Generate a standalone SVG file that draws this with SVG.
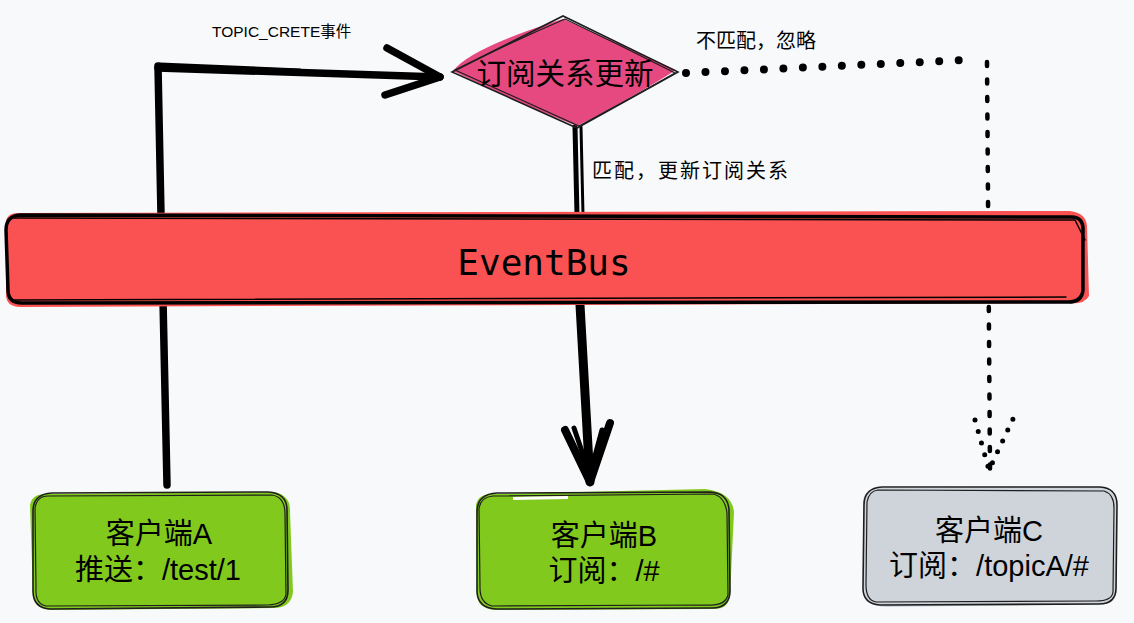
<svg xmlns="http://www.w3.org/2000/svg" width="1134" height="623" viewBox="0 0 1134 623">
<style>
.bg{fill:#f8f9fb}
.ln{fill:none;stroke:#000;stroke-linecap:round;stroke-linejoin:round}
.sk{fill:none;stroke:#1e1e1e;stroke-width:1.6}
.sk2{fill:none;stroke:#1e1e1e;stroke-width:1.2}
.cjk{font-family:"Liberation Sans","Noto Sans CJK SC",sans-serif;fill:#000}
.mono{font-family:"DejaVu Sans Mono",monospace;fill:#000}
.dot{fill:none;stroke:#000;stroke-linecap:round}
</style>
<rect class="bg" x="0" y="0" width="1134" height="623"/>
<g id="connectors">
  <!-- A to diamond -->
  <path class="ln" stroke-width="7.5" d="M167 485 L163 300 M161 215 L158 66"/>
  <path class="ln" stroke-width="7.5" d="M158 68 L440 77"/>
  <path class="ln" stroke-width="3" d="M160 64 L300 70"/>
  <path class="ln" stroke-width="7.5" d="M387 48 L440 77 L385 95"/>
  <path class="ln" stroke-width="3" d="M392 52 L438 74"/>
  <!-- diamond to B -->
  <path class="ln" stroke-width="5" d="M575 127 L577 215"/>
  <path class="ln" stroke-width="3" d="M581 127 L583 215"/>
  <path class="ln" stroke-width="9" d="M580 305 L590 482"/>
  <path class="ln" stroke-width="8" d="M565 430 L590 482 L610 423"/>
  <path class="ln" stroke-width="5" d="M574 428 L591 478 M602 430 L589 478"/>
  <!-- dotted to C -->
  <path class="dot" stroke-width="8" stroke-dasharray="0 19.5" d="M686 73 L966 60"/>
  <path class="dot" stroke-width="4.5" stroke-dasharray="4 13.5" d="M987 62 L990 470"/>
  <path class="dot" stroke-width="5" stroke-dasharray="0 12" d="M975 420 L989 470 L1013 419"/>
</g>
<g id="label-topic">
  <text class="cjk" x="212" y="37" font-size="15.5">TOPIC_CRETE事件</text>
</g>
<g id="label-nomatch">
  <text class="cjk" x="696" y="48" font-size="20">不匹配，忽略</text>
</g>
<g id="label-match">
  <text class="cjk" x="592" y="178" font-size="20" letter-spacing="2">匹配，更新订阅关系</text>
</g>
<g id="eventbus">
  <path fill="#fa5252" d="M6 221 Q8 212 20 213 L1070 211 Q1086 213 1087 226 L1089 296 Q1084 305 1068 303 L20 307 Q5 307 6 292 Z"/>
  <path class="ln" stroke-width="3.5" d="M20 215 L1070 217 Q1084 216 1083 232 L1083 290 Q1082 302 1068 302 L22 303 Q8 303 8 290 L6 230 Q6 216 20 215 Z"/>
  <path class="ln" stroke-width="1.5" d="M14 218 L1075 220 Q1080 230 1085 240 M12 300 L1066 297"/>
  <text class="mono" x="544" y="275" font-size="36" text-anchor="middle">EventBus</text>
</g>
<g id="diamond">
  <path fill="#e64980" d="M453 71 Q470 48 563 19 Q600 35 676 70 Q620 105 577 126 Q520 104 453 71 Z"/>
  <path class="sk" d="M452 72 L563 16 L678 72 L577 128 Z"/>
  <path class="sk2" d="M455 70 Q505 45 565 19 Q620 45 675 73 Q628 100 579 126 Q510 95 455 70 Z"/>
  <text class="cjk" x="565" y="84" font-size="29.5" text-anchor="middle">订阅关系更新</text>
</g>
<g id="clientA">
  <path fill="#82c91e" d="M30 505 Q32 493 48 494 L272 492 Q291 494 290 512 L293 592 Q291 608 274 608 L50 610 Q34 608 33 593 Z"/>
  <path class="sk" d="M52 493 L268 492 Q287 493 287 510 L288 590 Q288 607 270 607 L50 609 Q33 608 33 591 L33 511 Q33 494 52 493 Z"/>
  <path class="sk2" d="M48 496 L272 495 Q285 497 285 514 L286 594 Q285 604 268 605 L46 606 Q35 604 36 588 L35 508 Q37 496 48 496 Z"/>
  <text class="cjk" x="159" y="544" font-size="29" text-anchor="middle">客户端A</text>
  <text class="cjk" x="158" y="580" font-size="29" text-anchor="middle">推送：/test/1</text>
</g>
<g id="clientB">
  <path fill="#82c91e" d="M476 505 Q478 493 495 494 L705 489 Q732 492 734 512 L730 596 Q728 610 712 609 L494 610 Q477 608 477 594 Z"/>
  <path class="sk" d="M497 493 L710 492 Q728 493 729 510 L730 592 Q729 608 712 608 L496 609 Q478 608 477 592 L477 512 Q477 494 497 493 Z"/>
  <path class="sk2" d="M493 496 L714 494 Q726 498 727 514 L728 595 Q725 606 708 605 L492 606 Q480 603 480 588 L479 508 Q481 497 493 496 Z"/>
  <path fill="#fff" d="M513 497 L568 496 L568 499 L513 500 Z"/>
  <text class="cjk" x="604" y="546" font-size="29" text-anchor="middle">客户端B</text>
  <text class="cjk" x="604" y="581" font-size="29" text-anchor="middle">订阅：/#</text>
</g>
<g id="clientC">
  <path fill="#ced4da" d="M863 500 Q865 488 880 488 L1100 487 Q1117 490 1116 506 L1117 590 Q1115 605 1100 604 L886 607 Q864 606 864 590 Z"/>
  <path class="sk" d="M882 487 L1100 487 Q1117 488 1117 505 L1116 588 Q1116 604 1099 604 L880 605 Q863 604 863 588 L864 505 Q864 488 882 487 Z"/>
  <path class="sk2" d="M878 490 L1104 491 Q1114 494 1114 508 L1113 592 Q1112 601 1096 601 L876 602 Q866 600 866 585 L867 502 Q869 491 878 490 Z"/>
  <text class="cjk" x="989" y="541" font-size="29" text-anchor="middle">客户端C</text>
  <text class="cjk" x="989" y="576" font-size="29" text-anchor="middle">订阅：/topicA/#</text>
</g>
</svg>
